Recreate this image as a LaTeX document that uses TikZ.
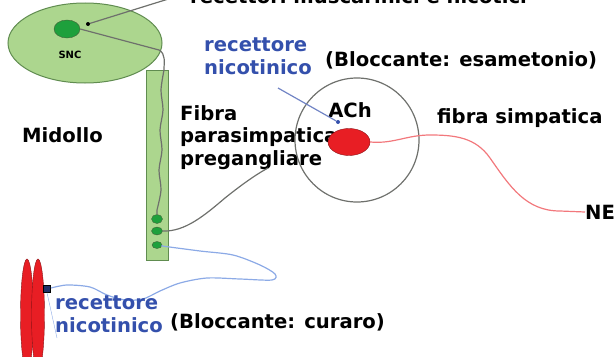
\documentclass[tikz,border=0pt]{standalone}
\usepackage{fontspec}
\setmainfont{DejaVu Sans}
\usetikzlibrary{shapes.geometric,positioning,calc,arrows.meta}

\definecolor{verdechiaro}{RGB}{172,214,142}
\definecolor{verdebordo}{RGB}{96,140,80}
\definecolor{verdescuro}{RGB}{30,160,60}
\definecolor{rosso}{RGB}{232,30,36}
\definecolor{rosa}{RGB}{242,120,124}
\definecolor{blutesto}{RGB}{52,80,172}
\definecolor{blufibra}{RGB}{140,170,230}
\definecolor{grigio}{RGB}{110,112,108}

\tikzset{
  testo/.style={font=\bfseries\fontsize{19.6}{22.5}\selectfont, inner sep=0pt, align=left},
  blu/.style={testo, text=blutesto},
  nucleo/.style={ellipse, draw=verdebordo!70!black, fill=verdescuro, inner sep=0pt},
  fibra/.style={draw=grigio, line width=1.2pt},
  motoria/.style={draw=blufibra, line width=1.2pt},
  simpatica/.style={draw=rosa, line width=1.2pt},
  muscolo/.style={ellipse, draw=rosso!60!black, fill=rosso, minimum width=13, minimum height=112, inner sep=0pt},
}

\begin{document}
\begin{tikzpicture}[
    x=1pt, y=-1pt,
    punto/.style={circle, fill=black, minimum size=4, inner sep=0pt},
    puntoblu/.style={circle, fill=blutesto, minimum size=4, inner sep=0pt}
    ]
    \useasboundingbox (0,0) rectangle (615,356);
    \clip (0,0) rectangle (615,356);

    % midollo e SNC
    \node[ellipse, draw=verdebordo, line width=1pt, fill=verdechiaro, minimum width=154, minimum height=80] (snc) at (85,43) {};
    \node[nucleo, minimum width=26, minimum height=18] (nucleo) at (67,29) {};
    \node[font=\bfseries\fontsize{10}{12}\selectfont, inner sep=0pt] (snclab) at (70,55) {SNC};
    \node[punto] (sinapsi) at (88,24) {};
    \node[testo, anchor=base west] (toplab) at (190,4) {recettori muscarinici e nicotici};
    \coordinate (topfine) at (178,-4);
    \draw[fibra] (topfine) -- (sinapsi);

    \node[draw=verdebordo, line width=1pt, fill=verdechiaro, minimum width=22, minimum height=190, inner sep=0pt] (colonna) at (157,165) {};
    \node[nucleo, minimum width=11, minimum height=9] (g1) at (157,219) {};
    \node[nucleo, minimum width=11, minimum height=8] (g2) at (157,231) {};
    \node[nucleo, minimum width=10, minimum height=7] (g3) at (157,245) {};

    \node[testo, anchor=west] (midollo) at (22,135) {Midollo};
    \node[testo, anchor=north west] (fibralab) at (180,105) {Fibra\\parasimpatica\\pregangliare};

    % fibra pregangliare
    \draw[fibra] (nucleo.east) -- (159,50) to[out=-30,in=90] (164,70)
        -- plot[smooth] coordinates {(164,70) (161,90) (163,110) (160,130) (162,150) (159,170) (161,190) (157,210)}
        -- (g1.north);
    \coordinate (pregfine) at (268,168);
    \draw[fibra] (g2.east) .. controls (185,232) and (205,215) .. (225,198)
        .. controls (240,186) and (255,175) .. (pregfine);

    % ganglio
    \node[circle, draw=grigio, line width=1.2pt, minimum size=124, inner sep=0pt] (ganglio) at (357,140) {};
    \node[ellipse, draw=rosso!60!black, fill=rosso, minimum width=42, minimum height=27, inner sep=0pt] (ach) at (349,142) {};
    \node[testo] (achlab) at (350,110) {ACh};
    \node[blu, anchor=north west] (recN) at (204,38) {recettore\\nicotinico};
    \node[testo, anchor=west] (esa) at (325,60) {(Bloccante: esametonio)};
    \coordinate (recNfine) at (278,88);
    \node[puntoblu] (recdot) at (338,122) {};
    \draw[motoria, draw=blutesto!70!white] (recNfine) -- (recdot);

    % fibra simpatica
    \node[testo, anchor=west] (simplab) at (437,118) {fibra simpatica};
    \node[testo, anchor=west] (ne) at (585,212) {NE};
    \draw[simpatica] (ach.east) to[out=-5,in=180] (430,135) to[out=0,in=125] (490,158)
        to[out=-55,in=180] (560,211) -- (ne.west);

    % placca motrice
    \node[muscolo] (m1) at (27,315) {};
    \node[muscolo] (m2) at (38,315) {};
    \node[draw=black, fill=blutesto!60!black, minimum size=7, inner sep=0pt] (recmusc) at (47,289) {};
    \draw[motoria] (g3.east) -- plot[smooth] coordinates {(162,246) (200,251) (233,255) (260,265) (275,274) (272,280) (240,279) (207,278) (180,283) (160,291) (143,299) (125,300) (107,295) (90,287) (67,285) (51,288)};
    \coordinate (motfine) at (57,338);
    \draw[motoria, thin] (recmusc.south) -- (motfine);
    \node[blu, anchor=north west] (recM) at (55,296) {recettore\\nicotinico};
    \node[testo, anchor=west] (cur) at (170,322) {(Bloccante: curaro)};
\end{tikzpicture}
\end{document}
